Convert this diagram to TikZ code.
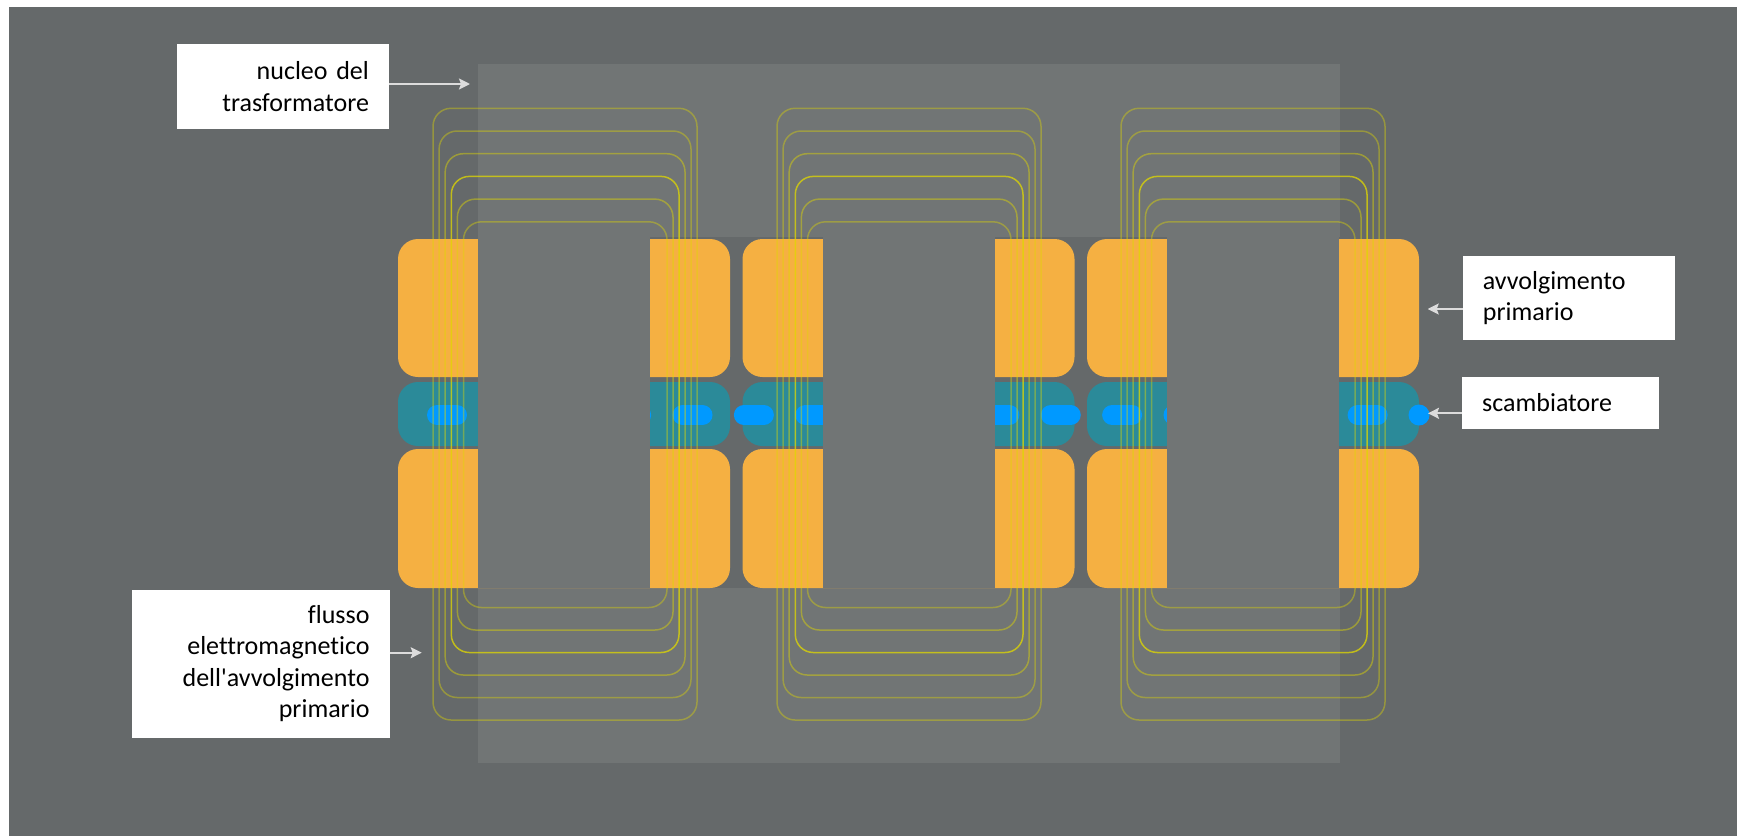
\documentclass[tikz,border=0pt]{standalone}
\usepackage{fontspec}
\setmainfont{Carlito}[Ligatures={TeXOff,CommonOff}]
\usetikzlibrary{arrows.meta}
\definecolor{bgc}{HTML}{65696A}
\definecolor{corec}{HTML}{717575}
\definecolor{coilc}{HTML}{F5B042}
\definecolor{tealc}{HTML}{2B8A99}
\definecolor{bluec}{HTML}{0099FF}
\definecolor{fluxc}{HTML}{E0D800}
\definecolor{arrc}{HTML}{DCDCDC}
\begin{document}
\begin{tikzpicture}[x=1pt,y=-1pt,
  coil/.style={fill=coilc, rounded corners=20pt},
  exch/.style={fill=tealc, rounded corners=20pt},
  fluxline/.style={draw=fluxc, line width=1.5pt, rounded corners=18pt},
  lbl/.style={fill=white, font=\fontsize{26}{31.5}\selectfont, inner ysep=0pt, inner xsep=20pt, anchor=north west},
  pointer/.style={draw=arrc, line width=2pt, -{Stealth[length=11pt,width=11pt,inset=2pt]}}]
\useasboundingbox (0,0) rectangle (1741,836);
\fill[white] (0,0) rectangle (1741,836);
\fill[bgc] (9,7) rectangle (1737,836);
% transformer core and the band holding the windings
\fill[corec] (478,64) rectangle (1340,763);
\fill[bgc] (478,237) rectangle (1340,588);
% windings and exchangers, one block per leg pair
\foreach \L in {398,742.5,1087} {
  \fill[coil] (\L,239) rectangle ++(332,138);
  \fill[exch] (\L,382) rectangle ++(332,64);
  \fill[coil] (\L,449) rectangle ++(332,139);
}
% coolant channel
\foreach \k in {0,...,15} {
  \draw[bluec, line width=20pt, line cap=round] ({447+61.375*\k-10},415) -- ++(20,0);
}
\fill[bluec] (1419,415) circle[radius=10.5];
% core windows
\foreach \L in {398,742.5,1087} {
  \fill[corec] ({\L+80},237) rectangle ({\L+252},588);
}
% flux loops
\foreach \L in {433,777,1121} {
  \foreach \i/\op in {0/0.4,1/0.4,2/0.45,3/0.75,4/0.45,5/0.4} {
    \draw[fluxline, draw opacity=\op] ({\L+6.1*\i},{108.3+22.7*\i}) rectangle ({\L+264-6*\i},{720-22.5*\i});
  }
}
% labels
\node[lbl, align=right, text width=172pt, minimum width=212pt, minimum height=84.3pt] (nucleo) at (176.7,44) {nucleo del\\trasformatore};
\node[lbl, align=left, text width=172.3pt, minimum width=212.3pt, minimum height=83.3pt] (avv) at (1462.7,256) {avvolgimento\\primario};
\node[lbl, align=left, text width=157pt, minimum width=197pt, minimum height=51.7pt] (scamb) at (1462,377) {scambiatore};
\node[lbl, align=right, text width=217.6pt, minimum width=257.6pt, minimum height=148pt] (flusso) at (131.7,589.3) {flusso\\elettromagnetico\\dell'avvolgimento\\primario};
\coordinate (tipN) at (470,84);
\coordinate (tipA) at (1427.7,309);
\coordinate (tipS) at (1428,413.3);
\coordinate (tipF) at (421.7,652.7);
\draw[pointer] (nucleo.east |- tipN) -- (tipN);
\draw[pointer] (avv.west |- tipA) -- (tipA);
\draw[pointer] (scamb.west |- tipS) -- (tipS);
\draw[pointer] (flusso.east |- tipF) -- (tipF);
\end{tikzpicture}
\end{document}
